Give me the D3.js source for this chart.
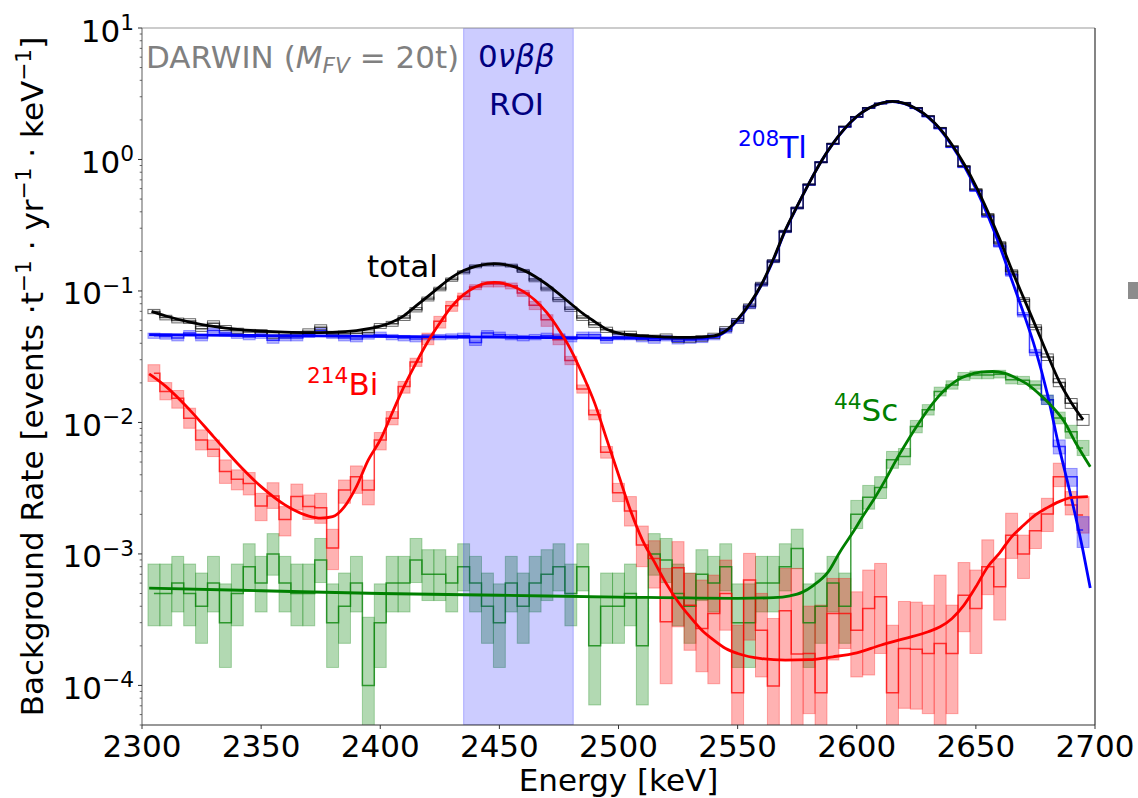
<!DOCTYPE html>
<html>
<head>
<meta charset="utf-8">
<script src="https://cdn.jsdelivr.net/npm/d3@7"></script>
<style>
  html, body { margin: 0; padding: 0; background: #ffffff; }
  svg { display: block; font-family: "DejaVu Sans", sans-serif; }
</style>
</head>
<body>
<svg id="chart" width="1138" height="798"></svg>
<script>
// ---- Binned spectra: bin centres [keV], 5 keV bins ----
const energy = [2305,2310,2315,2320,2325,2330,2335,2340,2345,2350,
  2355,2360,2365,2370,2375,2380,2385,2390,2395,2400,
  2405,2410,2415,2420,2425,2430,2435,2440,2445,2450,
  2455,2460,2465,2470,2475,2480,2485,2490,2495,2500,
  2505,2510,2515,2520,2525,2530,2535,2540,2545,2550,
  2555,2560,2565,2570,2575,2580,2585,2590,2595,2600,
  2605,2610,2615,2620,2625,2630,2635,2640,2645,2650,
  2655,2660,2665,2670,2675,2680,2685,2690,2695];

// total background rate [events / (t yr keV)]
const totalRate = [0.0698,0.0628,0.0597,0.0591,0.0516,0.0569,0.0523,0.0499,0.0488,0.0486,
  0.0459,0.0462,0.0470,0.0493,0.0530,0.0471,0.0473,0.0476,0.0483,0.0542,
  0.0563,0.0622,0.0720,0.0869,0.1035,0.1220,0.1387,0.1540,0.1590,0.1590,
  0.1560,0.1420,0.1210,0.1035,0.0858,0.0727,0.0622,0.0553,0.0507,0.0472,
  0.0472,0.0445,0.0440,0.0450,0.0428,0.0429,0.0436,0.0456,0.0513,0.0594,
  0.0769,0.1130,0.1690,0.2840,0.4280,0.6450,0.9540,1.320,1.780,2.110,
  2.470,2.670,2.780,2.700,2.470,2.140,1.740,1.260,0.8900,0.5910,
  0.3810,0.2320,0.1410,0.0860,0.0530,0.0314,0.0201,0.0140,0.0105];
const totalErr = [0.0026,0.0025,0.0025,0.0024,0.0023,0.0024,0.0023,0.0022,0.0022,0.0022,
  0.0022,0.0022,0.0022,0.0022,0.0023,0.0022,0.0022,0.0022,0.0022,0.0023,
  0.0024,0.0025,0.0027,0.0029,0.0032,0.0035,0.0037,0.0039,0.0040,0.0040,
  0.0039,0.0038,0.0035,0.0032,0.0029,0.0027,0.0025,0.0024,0.0023,0.0022,
  0.0022,0.0021,0.0021,0.0021,0.0021,0.0021,0.0021,0.0021,0.0023,0.0024,
  0.0028,0.0034,0.0041,0.0053,0.0065,0.0080,0.0098,0.0115,0.0133,0.0145,
  0.0157,0.0163,0.0167,0.0164,0.0157,0.0146,0.0132,0.0112,0.0094,0.0077,
  0.0062,0.0048,0.0038,0.0029,0.0023,0.0018,0.0014,0.0012,0.0010];

// 208Tl
const tlRate = [0.0457,0.0451,0.0438,0.0478,0.0438,0.0501,0.0478,0.0457,0.0446,0.0457,
  0.0421,0.0438,0.0438,0.0465,0.0498,0.0457,0.0438,0.0431,0.0451,0.0465,
  0.0446,0.0438,0.0431,0.0446,0.0446,0.0451,0.0457,0.0405,0.0478,0.0465,
  0.0446,0.0438,0.0446,0.0457,0.0451,0.0431,0.0465,0.0465,0.0421,0.0446,
  0.0446,0.0431,0.0421,0.0438,0.0415,0.0421,0.0426,0.0446,0.0500,0.0590,
  0.0760,0.112,0.168,0.283,0.427,0.643,0.951,1.31,1.77,2.10,
  2.46,2.66,2.77,2.68,2.45,2.12,1.72,1.24,0.875,0.578,
  0.368,0.220,0.133,0.066,0.034,0.0149,0.00656,0.00387,0.00152];
const tlErr = [0.0021,0.0021,0.0021,0.0022,0.0021,0.0022,0.0022,0.0021,0.0021,0.0021,
  0.0021,0.0021,0.0021,0.0022,0.0022,0.0021,0.0021,0.0021,0.0021,0.0022,
  0.0021,0.0021,0.0021,0.0021,0.0021,0.0021,0.0021,0.0020,0.0022,0.0022,
  0.0021,0.0021,0.0021,0.0021,0.0021,0.0021,0.0022,0.0022,0.0021,0.0021,
  0.0021,0.0021,0.0021,0.0021,0.0020,0.0021,0.0021,0.0021,0.0022,0.0024,
  0.0028,0.0033,0.0041,0.0053,0.0065,0.0080,0.0098,0.0114,0.0133,0.0145,
  0.0157,0.0163,0.0166,0.0164,0.0157,0.0146,0.0131,0.0111,0.0094,0.0076,
  0.0061,0.0047,0.0037,0.0026,0.0018,0.0012,0.0008,0.0006,0.0004];

// 214Bi
const biRate = [0.0237,0.0172,0.0153,0.01077,0.00736,0.00625,0.00423,0.00370,0.00344,0.00232,
  0.00276,0.00183,0.00273,0.00229,0.00225,0.00111,0.00307,0.00387,0.00307,0.00736,
  0.01077,0.01879,0.02878,0.04385,0.05875,0.0773,0.0910,0.1072,0.1130,0.1130,
  0.1096,0.0964,0.0778,0.0604,0.0426,0.0296,0.0180,0.01142,0.00594,0.00292,
  0.00212,0.00117,0.000925,0.000305,0.000785,0.000408,0.000271,0.000352,0.000501,0.000088,
  0.000633,0.000263,0.000099,0.000370,0.000173,0.000175,0.000088,0.000352,0.000352,0.000263,
  0.000385,0.000472,0.000088,0.000191,0.000188,0.000175,0.000208,0.000175,0.000486,0.000385,
  0.000800,0.000562,0.00139,0.000998,0.00150,0.00201,0.00387,0.00236,0.00198];
const biLow = [0.0205,0.01486,0.01284,0.00903,0.00618,0.00550,0.00344,0.00307,0.00281,0.00179,
  0.00222,0.00137,0.00216,0.00183,0.00171,0.00076,0.00243,0.00289,0.00236,0.00618,
  0.00959,0.0167,0.0267,0.0390,0.0522,0.0700,0.0858,0.1022,0.1072,0.1072,
  0.1035,0.0910,0.0721,0.0538,0.0390,0.0275,0.0167,0.01047,0.00535,0.00250,
  0.00163,0.00080,0.00055,0.000103,0.000279,0.000185,0.000127,0.000103,0.000263,0.000015,
  0.000221,0.000116,0.000017,0.000156,0.00003,0.000061,0.000015,0.000156,0.000191,0.000116,
  0.00012,0.000175,0.000015,0.000067,0.000066,0.000061,0.00003,0.000061,0.000256,0.000175,
  0.00049,0.000314,0.000925,0.000651,0.00110,0.00148,0.00325,0.00198,0.00144];
const biHigh = [0.0275,0.0201,0.0175,0.01284,0.00878,0.00736,0.00519,0.00436,0.00416,0.00289,
  0.00348,0.00229,0.00340,0.00281,0.00289,0.00154,0.00365,0.00467,0.00365,0.00838,
  0.0121,0.0205,0.0308,0.0478,0.0641,0.0834,0.0964,0.1116,0.1183,0.1183,
  0.1150,0.1011,0.0834,0.0660,0.0464,0.0318,0.0193,0.01246,0.00656,0.00344,
  0.00273,0.00163,0.00126,0.000776,0.00124,0.000711,0.000633,0.00069,0.000898,0.000287,
  0.00101,0.000501,0.000323,0.000776,0.000776,0.000401,0.000408,0.000651,0.000651,0.000515,
  0.000754,0.000847,0.000287,0.000435,0.00043,0.000408,0.00069,0.000408,0.00086,0.000754,
  0.00128,0.00092,0.00204,0.00139,0.00204,0.00265,0.0049,0.00298,0.00273];

// 44Sc
const scRate = [5e-4,5e-4,6e-4,5e-4,4e-4,6e-4,3e-4,5e-4,8e-4,6e-4,
  1.0e-3,6e-4,5e-4,5e-4,9e-4,3e-4,4e-4,6e-4,1e-4,3e-4,
  6e-4,6e-4,9e-4,7e-4,7e-4,6e-4,8e-4,6e-4,4e-4,3e-4,
  6e-4,4e-4,6e-4,7e-4,8e-4,5e-4,8e-4,2e-4,4e-4,4e-4,
  5e-4,2e-4,1.0e-3,9e-4,5e-4,4e-4,7e-4,6e-4,8e-4,3e-4,
  3e-4,6e-4,6e-4,8e-4,1.1e-3,3e-4,4e-4,6e-4,4e-4,2.0e-3,
  2.7e-3,3.2e-3,5.2e-3,5.5e-3,9.3e-3,1.25e-2,1.72e-2,1.93e-2,2.24e-2,2.30e-2,
  2.30e-2,2.33e-2,2.11e-2,2.09e-2,1.93e-2,1.49e-2,1.08e-2,8.5e-3,6.4e-3];
const scLow = [2.84e-4,2.84e-4,3.62e-4,2.84e-4,2.09e-4,3.62e-4,1.37e-4,2.84e-4,5.23e-4,3.62e-4,
  6.89e-4,3.62e-4,2.84e-4,2.84e-4,6.06e-4,1.37e-4,2.09e-4,3.62e-4,1.7e-5,1.37e-4,
  3.62e-4,3.62e-4,6.06e-4,4.42e-4,4.42e-4,3.62e-4,5.23e-4,3.62e-4,2.09e-4,1.37e-4,
  3.62e-4,2.09e-4,3.62e-4,4.42e-4,5.23e-4,2.84e-4,5.23e-4,7.1e-5,2.09e-4,2.09e-4,
  2.84e-4,7.1e-5,6.89e-4,6.06e-4,2.84e-4,2.09e-4,4.42e-4,3.62e-4,5.23e-4,1.37e-4,
  1.37e-4,3.62e-4,3.62e-4,5.23e-4,7.73e-4,1.37e-4,2.09e-4,3.62e-4,2.09e-4,1.56e-3,
  2.19e-3,2.64e-3,4.48e-3,4.76e-3,8.34e-3,1.138e-2,1.589e-2,1.791e-2,2.09e-2,2.148e-2,
  2.148e-2,2.177e-2,1.965e-2,1.945e-2,1.791e-2,1.368e-2,9.76e-3,7.58e-3,5.6e-3];
const scHigh = [8.38e-4,8.38e-4,9.58e-4,8.38e-4,7.16e-4,9.58e-4,5.92e-4,8.38e-4,1.195e-3,9.58e-4,
  1.427e-3,9.58e-4,8.38e-4,8.38e-4,1.311e-3,5.92e-4,7.16e-4,9.58e-4,3.3e-4,5.92e-4,
  9.58e-4,9.58e-4,1.311e-3,1.077e-3,1.077e-3,9.58e-4,1.195e-3,9.58e-4,7.16e-4,5.92e-4,
  9.58e-4,7.16e-4,9.58e-4,1.077e-3,1.195e-3,8.38e-4,1.195e-3,4.64e-4,7.16e-4,7.16e-4,
  8.38e-4,4.64e-4,1.427e-3,1.311e-3,8.38e-4,7.16e-4,1.077e-3,9.58e-4,1.195e-3,5.92e-4,
  5.92e-4,9.58e-4,9.58e-4,1.195e-3,1.542e-3,5.92e-4,7.16e-4,9.58e-4,7.16e-4,2.554e-3,
  3.32e-3,3.87e-3,6.02e-3,6.34e-3,1.036e-2,1.367e-2,1.856e-2,2.074e-2,2.4e-2,2.462e-2,
  2.462e-2,2.493e-2,2.26e-2,2.24e-2,2.074e-2,1.617e-2,1.199e-2,9.52e-3,7.3e-3];

// ---- Fitted spectral models ----
const totalFitE = [2304,2310,2320,2330,2340,2350,2360,2370,2380,2390,2400,
  2405,2410,2415,2420,2425,2430,2435,2440,2445,2448,2450,
  2455,2460,2465,2470,2475,2480,2485,2490,2495,2500,
  2510,2520,2530,2540,
  2545,2550,2555,2560,2565,2570,2575,2580,2585,2590,2595,2600,2605,2610,2615,
  2620,2625,2630,2635,2640,2645,2650,2655,2660,2665,2670,2675,2680,2685,2690,2695];
const totalFitRate = [0.0700,0.0645,0.0580,0.0538,0.0510,0.0495,0.0486,0.0482,0.0485,0.0500,0.0540,
  0.0580,0.0650,0.0770,0.0910,0.1080,0.1270,0.1430,0.1540,0.1600,0.1612,0.1605,
  0.1550,0.1440,0.1290,0.1120,0.0950,0.0800,0.0675,0.0585,0.0512,0.0478,
  0.0455,0.0446,0.0443,0.0455,
  0.0497,0.0608,0.0795,0.1120,0.1750,0.290,0.442,0.662,0.962,1.322,1.722,2.122,2.452,2.672,2.765,
  2.670,2.430,2.105,1.710,1.295,0.928,0.627,0.402,0.248,0.146,0.089,0.0545,0.0330,0.0205,0.0142,0.0105];

const tlFitE = [2303,2350,2400,2450,2500,2530,2540,2545,2550,2555,
  2560,2565,2570,2575,2580,2585,2590,2595,2600,2605,2610,2615,2620,2625,
  2630,2635,2640,2645,2650,2655,2660,2665,2670,2675,2680,2685,2690,2695,2698];
const tlFitRate = [0.0465,0.0458,0.0451,0.0445,0.0438,0.0436,0.0448,0.0490,0.0600,0.0785,
  0.111,0.172,0.287,0.440,0.660,0.960,1.32,1.72,2.12,2.45,2.67,2.76,2.66,2.42,
  2.09,1.69,1.27,0.900,0.600,0.375,0.220,0.122,0.068,0.036,0.0165,0.0064,0.0027,0.00105,0.00055];

const biFitE = [2303,2310,2320,2330,2340,2350,2360,2370,2375,2380,2385,2390,2395,2400,
  2405,2410,2415,2420,2425,2430,2435,2440,2445,2448,
  2450,2455,2460,2465,2470,2475,2480,2485,2490,2495,2500,2505,2510,2515,2520,2525,2530,2535,2540,2545,2550,
  2560,2570,2580,2590,2600,2610,2620,2630,
  2635,2640,2645,2650,2655,2660,2665,2670,2675,2680,2685,2690,2697];
const biFitRate = [0.0234,0.0188,0.01247,0.00781,0.0049,0.00325,0.00236,0.00194,0.00187,0.00192,0.00229,0.00325,0.00519,0.00736,
  0.0118,0.0188,0.0283,0.0413,0.0570,0.0764,0.0938,0.107,0.115,0.1164,
  0.1158,0.1096,0.0993,0.0849,0.0680,0.0507,0.0357,0.0230,0.01403,0.0075,0.0040,0.00215,0.00128,0.000873,0.000597,0.000433,0.000333,0.000263,0.000221,0.000191,0.000175,
  0.000160,0.000156,0.000157,0.000165,0.000177,0.000202,0.000227,0.000256,
  0.000279,0.000323,0.000408,0.000562,0.00080,0.00102,0.00135,0.00165,0.00198,0.00225,0.00250,0.00268,0.00273];

const scFitE = [2303,2350,2400,2450,2500,2550,2565,2572,2577,2582,2588,2593,2599,2602,2607,2612,
  2617,2622,2627,2632,2637,2642,2647,2652,2657,2662,2667,2672,2677,2682,2687,2692,2698];
const scFitRate = [0.000550,0.000525,0.000500,0.000485,0.000470,0.000460,0.000465,0.000480,0.000510,0.000580,0.00073,0.00104,0.00152,0.00187,0.00257,0.00366,
  0.00535,0.00759,0.0105,0.0140,0.0177,0.0209,0.0230,0.0241,0.0244,0.0237,0.0217,0.0193,0.0162,0.0132,0.0102,0.00695,0.00461];

// 0vbb region of interest [keV]
const roi = [2435, 2481];

// axis ticks
const xTicks = [2300, 2350, 2400, 2450, 2500, 2550, 2600, 2650, 2700];
const yTickExponents = [-4, -3, -2, -1, 0, 1];

// ---- Layout ----
const plot = { left: 142, right: 1095, top: 28, bottom: 725 };
const FS = 31;            // main font size
const FS_SUP = 21.7;      // superscript font size

const x = d3.scaleLinear().domain([2300, 2700]).range([plot.left, plot.right]);
const y = d3.scaleLog().domain([5e-5, 10]).range([plot.bottom, plot.top]);

const svg = d3.select('#chart');
svg.append('rect').attr('width', 1138).attr('height', 798).attr('fill', '#ffffff');

svg.append('defs').append('clipPath').attr('id', 'plotClip')
  .append('rect')
  .attr('x', plot.left).attr('y', plot.top)
  .attr('width', plot.right - plot.left).attr('height', plot.bottom - plot.top);

const area = svg.append('g').attr('clip-path', 'url(#plotClip)');
const halfBin = (energy[1] - energy[0]) / 2;
const safe = v => Math.max(v, 1e-7);

const series = [
  { key: 'sc', rate: scRate, lo: scLow, hi: scHigh, color: '#008000', fillOp: 0.3, strokeOp: 0.3, fill: true },
  { key: 'bi', rate: biRate, lo: biLow, hi: biHigh, color: '#ff0000', fillOp: 0.3, strokeOp: 0.3, fill: true },
  { key: 'tl', rate: tlRate, lo: tlRate.map((v, i) => v - tlErr[i]), hi: tlRate.map((v, i) => v + tlErr[i]),
    color: '#0000ff', fillOp: 0.3, strokeOp: 0.35, fill: true },
  { key: 'total', rate: totalRate, lo: totalRate.map((v, i) => v - totalErr[i]), hi: totalRate.map((v, i) => v + totalErr[i]),
    color: '#000000', fillOp: 0, strokeOp: 0.6, fill: false }
];

// error bands, one rectangle per bin
series.forEach(s => {
  area.append('g').attr('class', 'band-' + s.key)
    .selectAll('rect')
    .data(energy.map((e, i) => ({ e, lo: s.lo[i], hi: s.hi[i] })))
    .join('rect')
    .attr('x', d => x(d.e - halfBin))
    .attr('width', d => x(d.e + halfBin) - x(d.e - halfBin))
    .attr('y', d => y(safe(d.hi)))
    .attr('height', d => y(safe(d.lo)) - y(safe(d.hi)))
    .attr('fill', s.fill ? s.color : 'none')
    .attr('fill-opacity', s.fillOp)
    .attr('stroke', s.color)
    .attr('stroke-opacity', s.strokeOp)
    .attr('stroke-width', 1);
});

// histogram step lines (mid-step)
const stepLine = d3.line().x(d => x(d.e)).y(d => y(safe(d.v))).curve(d3.curveStep);
series.forEach(s => {
  area.append('path')
    .datum(energy.map((e, i) => ({ e, v: s.rate[i] })))
    .attr('d', stepLine)
    .attr('fill', 'none')
    .attr('stroke', s.color)
    .attr('stroke-opacity', s.key === 'total' ? 0.7 : 0.75)
    .attr('stroke-width', 1.5);
});

// region of interest
area.append('rect')
  .attr('x', x(roi[0])).attr('y', plot.top)
  .attr('width', x(roi[1]) - x(roi[0])).attr('height', plot.bottom - plot.top)
  .attr('fill', '#0000ff').attr('fill-opacity', 0.2)
  .attr('stroke', '#0000ff').attr('stroke-opacity', 0.25).attr('stroke-width', 1);

// fitted models
const fitLine = d3.line().x(d => x(d.e)).y(d => y(d.v)).curve(d3.curveMonotoneX);
const fits = [
  { E: tlFitE, R: tlFitRate, color: '#0000ff' },
  { E: scFitE, R: scFitRate, color: '#008000' },
  { E: biFitE, R: biFitRate, color: '#ff0000' },
  { E: totalFitE, R: totalFitRate, color: '#000000' }
];
fits.forEach(f => {
  area.append('path')
    .datum(f.E.map((e, i) => ({ e, v: f.R[i] })))
    .attr('d', fitLine)
    .attr('fill', 'none')
    .attr('stroke', f.color)
    .attr('stroke-width', 2.8)
    .attr('stroke-linejoin', 'round');
});

// ---- Axes ----
const axes = svg.append('g');
// spines
axes.append('line').attr('x1', plot.left).attr('x2', plot.right).attr('y1', plot.top).attr('y2', plot.top)
  .attr('stroke', '#999999').attr('stroke-width', 1.2);
axes.append('line').attr('x1', plot.left).attr('x2', plot.left).attr('y1', plot.top).attr('y2', plot.bottom)
  .attr('stroke', '#777777').attr('stroke-width', 1.2);
axes.append('line').attr('x1', plot.right).attr('x2', plot.right).attr('y1', plot.top).attr('y2', plot.bottom)
  .attr('stroke', '#333333').attr('stroke-width', 1.2);
axes.append('line').attr('x1', plot.left).attr('x2', plot.right).attr('y1', plot.bottom).attr('y2', plot.bottom)
  .attr('stroke', '#333333').attr('stroke-width', 1.2);

// x ticks
xTicks.forEach(t => {
  const px = x(t);
  axes.append('line').attr('x1', px).attr('x2', px).attr('y1', plot.bottom).attr('y2', plot.bottom + 4)
    .attr('stroke', '#333').attr('stroke-width', 1);
  axes.append('text').attr('x', px).attr('y', 757).attr('text-anchor', 'middle')
    .attr('font-size', FS).attr('fill', '#000').text(t);
});

// y major ticks with 10^n labels
yTickExponents.forEach(n => {
  const py = y(Math.pow(10, n));
  axes.append('line').attr('x1', plot.left - 4).attr('x2', plot.left).attr('y1', py).attr('y2', py)
    .attr('stroke', '#333').attr('stroke-width', 1);
  const t = axes.append('text').attr('x', 134).attr('y', py + 13.5).attr('text-anchor', 'end')
    .attr('font-size', FS).attr('fill', '#000');
  t.append('tspan').text('10');
  t.append('tspan').attr('font-size', FS_SUP).attr('dy', -11.5).text(n < 0 ? '\u2212' + (-n) : String(n));
});

// y minor ticks
const [yMin, yMax] = y.domain();
for (let n = -5; n <= 1; n++) {
  for (let k = 2; k <= 9; k++) {
    const v = k * Math.pow(10, n);
    if (v < yMin || v > yMax) continue;
    const py = y(v);
    axes.append('line').attr('x1', plot.left - 2.3).attr('x2', plot.left).attr('y1', py).attr('y2', py)
      .attr('stroke', '#444').attr('stroke-width', 0.8);
  }
}

// axis titles
axes.append('text').attr('x', (plot.left + plot.right) / 2).attr('y', 791).attr('text-anchor', 'middle')
  .attr('font-size', FS).attr('fill', '#000').text('Energy [keV]');

const yl = axes.append('text').attr('transform', 'translate(43,' + ((plot.top + plot.bottom) / 2) + ') rotate(-90)')
  .attr('text-anchor', 'middle').attr('font-size', FS).attr('fill', '#000');
yl.append('tspan').text('Background Rate [events \u00b7t');
yl.append('tspan').attr('font-size', FS_SUP).attr('dy', -12).text('\u22121');
yl.append('tspan').attr('dy', 12).text(' \u00b7 yr');
yl.append('tspan').attr('font-size', FS_SUP).attr('dy', -12).text('\u22121');
yl.append('tspan').attr('dy', 12).text(' \u00b7 keV');
yl.append('tspan').attr('font-size', FS_SUP).attr('dy', -12).text('\u22121');
yl.append('tspan').attr('dy', 12).text(']');

// ---- Annotations ----
const ann = svg.append('g');
const darwin = ann.append('text').attr('x', 146).attr('y', 68).attr('font-size', FS).attr('fill', '#808080');
darwin.append('tspan').text('DARWIN (');
darwin.append('tspan').attr('font-style', 'italic').text('M');
darwin.append('tspan').attr('font-style', 'italic').attr('font-size', FS_SUP).attr('dy', 5).text('FV');
darwin.append('tspan').attr('dy', -5).text(' = 20t)');

const roiCentre = (x(roi[0]) + x(roi[1])) / 2 - 2;
const nu = ann.append('text').attr('x', roiCentre).attr('y', 67).attr('text-anchor', 'middle')
  .attr('font-size', FS).attr('fill', '#000080');
nu.append('tspan').text('0');
nu.append('tspan').attr('font-style', 'italic').text('\u03bd\u03b2\u03b2');
ann.append('text').attr('x', roiCentre).attr('y', 115).attr('text-anchor', 'middle')
  .attr('font-size', FS).attr('fill', '#000080').text('ROI');

ann.append('text').attr('x', 367).attr('y', 277).attr('font-size', FS).attr('fill', '#000000').text('total');

function isotope(xPos, yPos, mass, name, color) {
  const t = ann.append('text').attr('x', xPos).attr('y', yPos).attr('font-size', FS).attr('fill', color);
  t.append('tspan').attr('font-size', FS_SUP).attr('dy', -12.5).text(mass);
  t.append('tspan').attr('dy', 12.5).text(name);
}
isotope(307, 395, '214', 'Bi', '#ff0000');
isotope(738, 158, '208', 'Tl', '#0000ff');
isotope(834, 421, '44', 'Sc', '#008000');

// partial marker at the right edge of the figure
svg.append('rect').attr('x', 1128).attr('y', 282).attr('width', 10).attr('height', 17).attr('fill', '#8c8c8c');
</script>
</body>
</html>
